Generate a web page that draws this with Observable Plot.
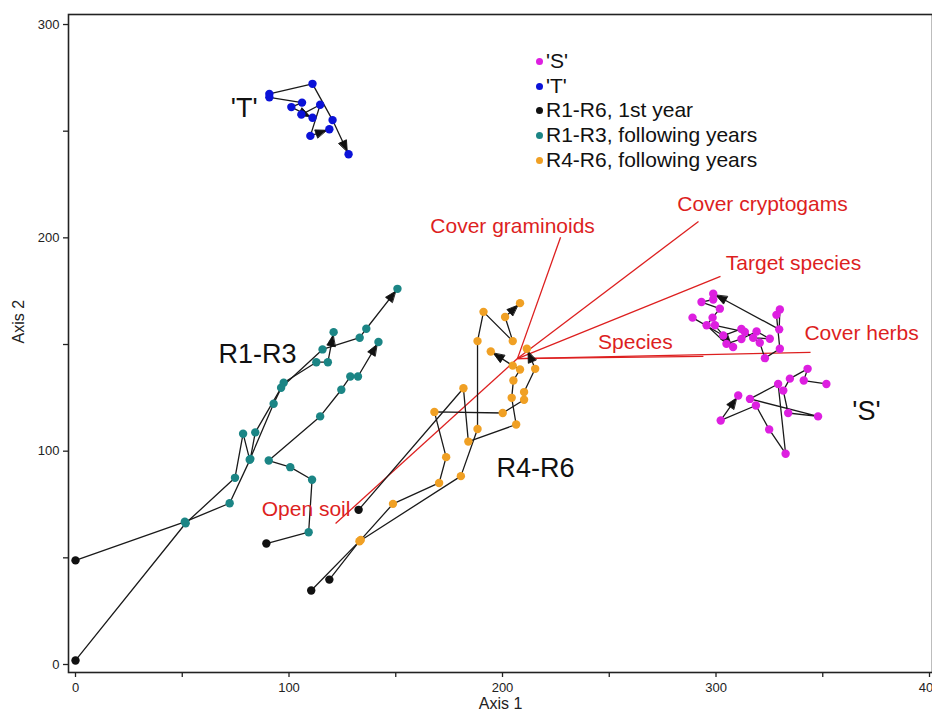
<!DOCTYPE html>
<html><head><meta charset="utf-8">
<script src="https://cdn.jsdelivr.net/npm/d3@7"></script>
<script src="https://cdn.jsdelivr.net/npm/@observablehq/plot@0.6"></script>
<style>
body{margin:0;background:#fff;font-family:"Liberation Sans",Arial,sans-serif;}
#wrap{position:relative;width:932px;height:720px;}
#legend{position:absolute;left:536px;top:49px;font-size:21px;color:#111;line-height:24.7px;}
#legend .row{display:flex;align-items:center;white-space:nowrap;height:24.7px;}
#legend .d{display:inline-block;width:7px;height:7px;border-radius:50%;margin-right:3px;}
</style></head><body>
<div id="wrap"><div id="legend"></div></div>
<script>
// ---------- data (Axis 1, Axis 2) ----------
const trajR1 = [[0,48.8],[51.2,66.9],[72.2,75.6],[81.9,96.4],[84.2,108.8],[96.3,129.7],[115.7,147.7],[133.1,153.2],[136.2,157.4],[150.8,176.1]];
const trajR2 = [[0,1.9],[51.6,66.2],[74.7,87.5],[78.5,108.2],[81.6,96.0],[92.8,122.2],[97.5,132.1],[112.8,141.7],[118.2,141.7],[120.9,155.8]];
const trajR3 = [[89.4,56.7],[109.2,62.0],[110.8,86.6],[100.6,92.5],[90.5,95.6],[114.6,116.3],[124.5,128.8],[128.7,135.0],[132.3,135.0],[141.9,151.2]];
const trajR4 = [[132.6,72.5],[181.7,129.5],[184.0,104.5],[206.4,112.5],[204.3,125.0],[205.1,133.1],[208.2,138.3],[204.8,140.1],[194.5,146.7]];
const trajR5 = [[118.9,39.8],[133.0,57.8],[180.5,88.3],[188.3,110.4],[188.3,151.6],[191.1,165.3],[204.8,151.6],[201.2,162.9],[208.2,169.4]];
const trajR6 = [[110.4,34.7],[133.6,58.4],[148.7,75.3],[170.3,85.1],[173.6,97.2],[168.1,118.4],[200.1,117.9],[210.1,124.1],[210.1,127.7],[215.3,138.6],[211.4,148.0]];
const trajT1 = [[90.8,267.5],[111.0,272.2],[120.4,255.2],[127.9,239.2]];
const trajT2 = [[90.8,265.9],[106.1,263.4],[101.1,261.3],[111.0,256.3]];
const trajT3 = [[105.8,257.8],[114.6,262.4],[110.0,247.8],[118.9,250.9]];
const trajS1 = [[351.7,131.5],[341.1,133.1],[342.9,138.6],[334.6,134.0],[331.5,128.4],[333.8,117.9],[347.8,116.3],[315.9,124.5],[329.1,131.5],[332.6,98.8],[324.9,110.2],[318.7,121.4],[302.2,114.4],[310.4,126.1]];
const trajS2 = [[289.0,162.6],[303.4,154.2],[311.9,157.3],[320.5,150.8],[322.9,143.6],[329.9,148.0],[328.3,163.9],[329.9,166.4],[329.6,157.1],[298.7,173.8]];
const trajS3 = [[298.7,171.1],[293.2,169.9],[301.8,166.8],[298.4,162.6],[295.6,159.0],[304.9,150.3],[311.9,152.6],[319.0,156.1],[325.2,152.7],[317.4,153.1],[313.5,155.9],[299.5,159.0],[308.0,148.8]];

const vectorNames = ["Open soil","Cover graminoids","Cover cryptogams","Target species","Species","Cover herbs"];
const vectorX = [121.8, 227.2, 291.8, 302.1, 294.1, 344.3];
const vectorY = [66.1, 200.3, 207.7, 181.9, 144.4, 146.3];
const vectorOrigin = [207.0, 143.4];

const groupLabels = ["'T'","R1-R3","R4-R6","'S'"];
const groupLabelX = [79.0, 85.2, 215.5, 370.5];
const groupLabelY = [260.6, 145.3, 91.9, 118.6];

const legendLabels = ["'S'","'T'","R1-R6, 1st year","R1-R3, following years","R4-R6, following years"];
const xTicks = [0,50,100,150,200,250,300,350,400];
const yTicks = [0,50,100,150,200,250,300];

// ---------- styling / layout ----------
const palette = {S:"#dd1fe0", T:"#0b12d8", first:"#111111", R13:"#1b8585", R46:"#f0a024"};
const legendKeys = ["S","T","first","R13","R46"];
const W = 932, H = 720, mL = 68, mR = 0, mT = 14, mB = 48;
const xDomain = [-3.28, 401.4], yDomain = [-3.75, 304.7];
const kx = (W-mL-mR)/(xDomain[1]-xDomain[0]);
const ky = (H-mT-mB)/(yDomain[1]-yDomain[0]);

const trajectories = [
  {pts:trajR1, kind:"R13"},{pts:trajR2, kind:"R13"},{pts:trajR3, kind:"R13"},
  {pts:trajR4, kind:"R46"},{pts:trajR5, kind:"R46"},{pts:trajR6, kind:"R46"},
  {pts:trajT1, kind:"T"},{pts:trajT2, kind:"T"},{pts:trajT3, kind:"T"},
  {pts:trajS1, kind:"S"},{pts:trajS2, kind:"S"},{pts:trajS3, kind:"S"}
];
const lineData = [], dotData = [], arrowData = [];
trajectories.forEach((t, ti) => {
  t.pts.forEach(([x,y], i) => {
    lineData.push({x, y, traj: ti});
    const g = (t.kind === "R13" || t.kind === "R46") && i === 0 ? "first" : t.kind;
    dotData.push({x, y, g});
  });
  const n = t.pts.length, [x0,y0] = t.pts[n-2], [x1,y1] = t.pts[n-1];
  arrowData.push({x:x1, y:y1, angle: Math.atan2((x1-x0)*kx, (y1-y0)*ky)*180/Math.PI});
});
const vectors = vectorNames.map((name, i) => ({name, x1:vectorOrigin[0], y1:vectorOrigin[1], x2:vectorX[i], y2:vectorY[i]}));
const vLabelOffsets = [[-29.5,-14],[-48,-11],[64,-17],[73,-13],[-68,-14],[51,-19]];
const vLabels = vectors.map((v,i) => ({name:v.name, x: v.x2 + vLabelOffsets[i][0]/kx, y: v.y2 - vLabelOffsets[i][1]/ky}));
const gLabels = groupLabels.map((t,i) => ({t, x:groupLabelX[i], y:groupLabelY[i]}));

const headShape = {draw(ctx, l){ const t = -l + 3; ctx.moveTo(0,t); ctx.lineTo(-4.2,t+11); ctx.lineTo(4.2,t+11); ctx.closePath(); }};

const chart = Plot.plot({
  width: W, height: H, marginLeft: mL, marginRight: mR, marginTop: mT, marginBottom: mB,
  style: {fontFamily: "'Liberation Sans', Arial, sans-serif", fontSize: "13px", color: "#222", background: "#fff"},
  x: {domain: xDomain}, y: {domain: yDomain},
  marks: [
    Plot.axisX({ticks: xTicks, tickFormat: d => d % 100 === 0 ? String(d) : "", tickSize: 5, tickPadding: 5, label: null, strokeWidth: 1.3}),
    Plot.axisY({ticks: yTicks, tickFormat: d => d % 100 === 0 ? String(d) : "", tickSize: 5, tickPadding: 4, label: null, strokeWidth: 1.3}),
    Plot.frame({stroke: "#222", strokeWidth: 1.6}),
    Plot.link(vectors, {x1:"x1", y1:"y1", x2:"x2", y2:"y2", stroke:"#dd1f1f", strokeWidth: 1.3}),
    Plot.line(lineData, {x:"x", y:"y", z:"traj", stroke:"#1a1a1a", strokeWidth: 1.3, curve:"linear"}),
    Plot.vector(arrowData, {x:"x", y:"y", rotate:"angle", length: 14, anchor:"end", shape: headShape, fill:"#111", stroke:"#111", strokeWidth: 0.8}),
    Plot.dot(dotData, {x:"x", y:"y", r: 4.2, fill: d => palette[d.g], stroke: "none"}),
    Plot.text(vLabels, {x:"x", y:"y", text:"name", fill:"#dd1f1f", fontSize: 21}),
    Plot.text(gLabels, {x:"x", y:"y", text:"t", fill:"#111", fontSize: 27}),
    Plot.text(["Axis 1"], {frameAnchor:"bottom", dy: 36, fontSize: 16, fill:"#222"}),
    Plot.text(["Axis 2"], {frameAnchor:"left", dx: -50, rotate: -90, fontSize: 16, fill:"#222"})
  ]
});
document.getElementById("wrap").prepend(chart);

const leg = document.getElementById("legend");
legendLabels.forEach((lab, i) => {
  const row = document.createElement("div"); row.className = "row";
  const d = document.createElement("span"); d.className = "d"; d.style.background = palette[legendKeys[i]];
  const s = document.createElement("span"); s.textContent = lab;
  row.appendChild(d); row.appendChild(s); leg.appendChild(row);
});
</script>
</body></html>
